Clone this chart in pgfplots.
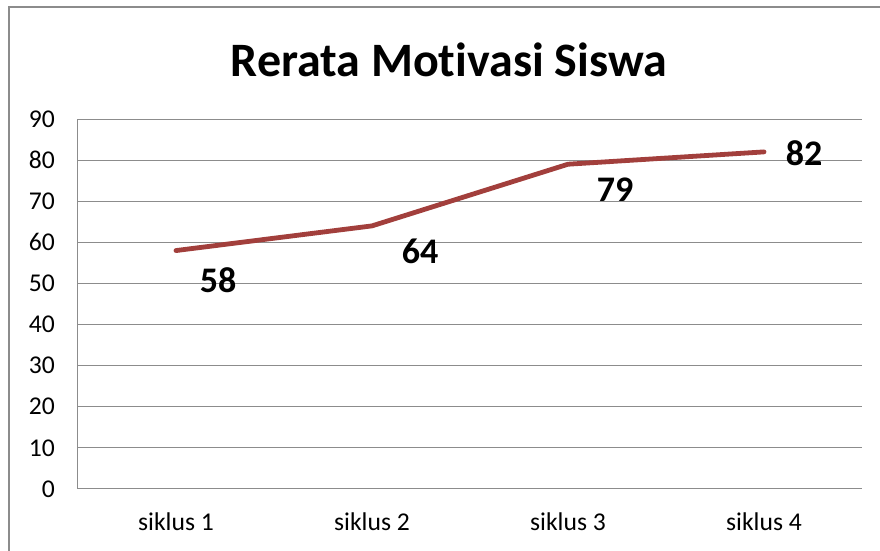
\documentclass[border=0pt]{standalone}
\usepackage{pgfplots}
\pgfplotsset{compat=1.18}
\usepackage{fontspec}
\setmainfont{Carlito}[Ligatures=NoCommon]
\definecolor{linec}{HTML}{A23F3C}
\definecolor{gridc}{HTML}{8C8C8C}
\begin{document}
\begin{tikzpicture}[x=0.5pt,y=0.5pt]
\useasboundingbox (-78,-62) rectangle (802,489);
\draw[gridc, line width=0.8pt] (-69,-80) -- (-69,482) -- (820,482);
\begin{axis}[
  at={(0,0)}, anchor=south west,
  scale only axis, width=392pt, height=185pt,
  xmin=0, xmax=4, ymin=0, ymax=90,
  ytick={0,10,...,90},
  xtick={0.5,1.5,2.5,3.5},
  xticklabels={siklus 1,siklus 2,siklus 3,siklus 4},
  major tick length=0pt,
  ymajorgrids,
  grid style={gridc, line width=0.5pt},
  axis line style={gridc, line width=0.5pt},
  axis x line*=bottom, axis y line*=left,
  /pgf/number format/assume math mode=true,
  tick label style={font=\fontsize{12.8}{15}\selectfont},
  yticklabel style={xshift=-8pt},
  xticklabel style={yshift=-8.5pt},
  clip=false,
]
\addplot[linec, line width=2.4pt, line cap=round, line join=round] coordinates {(0.5,58) (1.5,64) (2.5,79) (3.5,82)};
\node[font=\bfseries\fontsize{18}{20}\selectfont] at (axis cs:0.5,58) [xshift=21pt,yshift=-15pt] {58};
\node[font=\bfseries\fontsize{18}{20}\selectfont] at (axis cs:1.5,64) [xshift=24pt,yshift=-12.5pt] {64};
\node[font=\bfseries\fontsize{18}{20}\selectfont] at (axis cs:2.5,79) [xshift=23.5pt,yshift=-12.5pt] {79};
\node[font=\bfseries\fontsize{18}{20}\selectfont] at (axis cs:3.5,82) [xshift=20pt,yshift=-0.5pt] {82};
\end{axis}
\node[font=\bfseries\fontsize{24}{27}\selectfont] at (371,429) {Rerata Motivasi Siswa};
\end{tikzpicture}
\end{document}
